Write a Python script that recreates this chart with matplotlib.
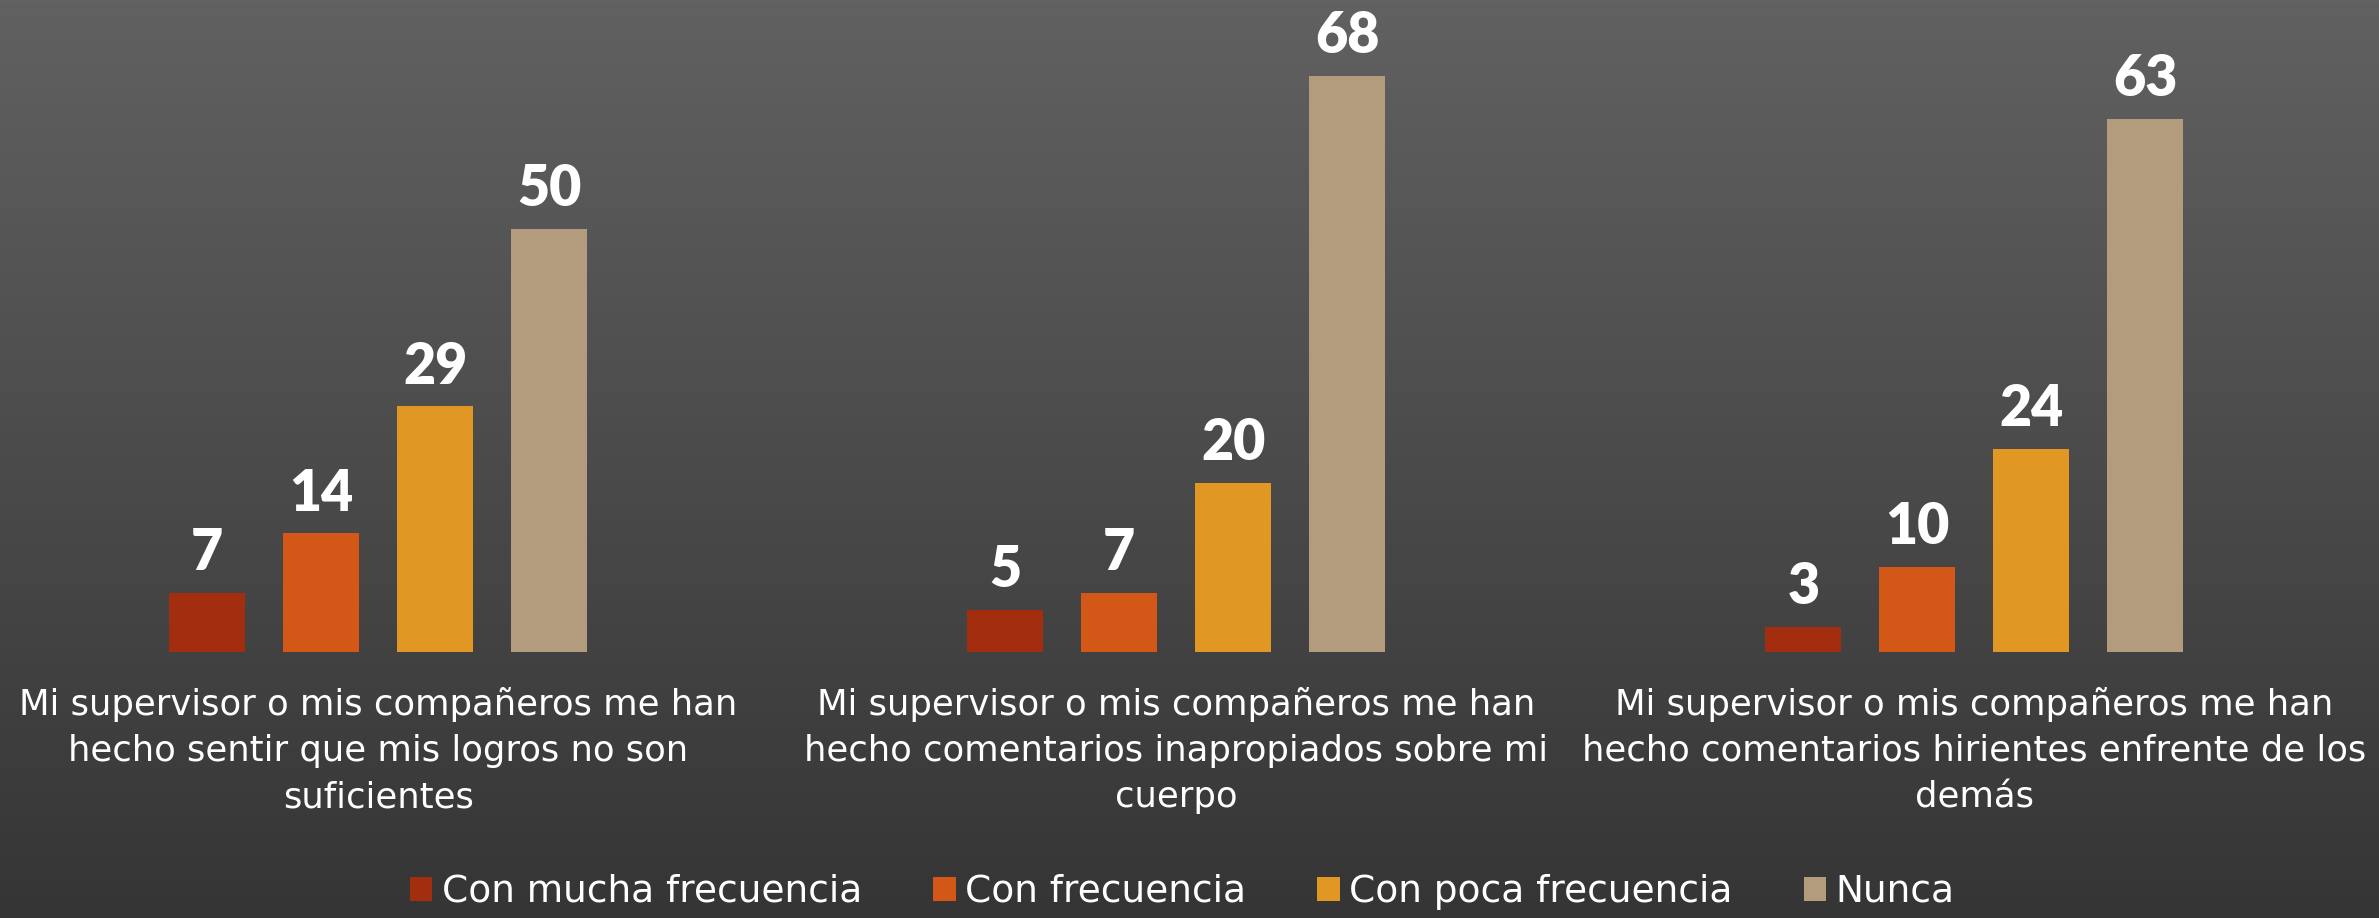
import matplotlib
matplotlib.use("Agg")
import matplotlib.pyplot as plt
import numpy as np
from matplotlib.colors import LinearSegmentedColormap

# datos
categorias = [
    "Mi supervisor o mis compañeros me han\nhecho sentir que mis logros no son\nsuficientes",
    "Mi supervisor o mis compañeros me han\nhecho comentarios inapropiados sobre mi\ncuerpo",
    "Mi supervisor o mis compañeros me han\nhecho comentarios hirientes enfrente de los\ndemás",
]
series = ["Con mucha frecuencia", "Con frecuencia", "Con poca frecuencia", "Nunca"]
mucha = [7, 5, 3]
frecuencia = [14, 7, 10]
poca = [29, 20, 24]
nunca = [50, 68, 63]
colores = ["#A22E0F", "#D35817", "#E09724", "#B39C7D"]

valores = [mucha, frecuencia, poca, nunca]

W, H = 2379, 918
fig = plt.figure(figsize=(W / 100, H / 100), dpi=100)

#   fondo degradado
bg = fig.add_axes([0, 0, 1, 1])
grad = np.linspace(0, 1, 256).reshape(-1, 1)
cmap = LinearSegmentedColormap.from_list("fondo", ["#616161", "#353535"])
bg.imshow(grad, aspect="auto", cmap=cmap, extent=[0, 1, 0, 1], origin="upper")
bg.axis("off")

#   barras
base = 652
ax = fig.add_axes([0, (H - base) / H, 1, base / H])
ax.set_facecolor("none")
x = np.arange(len(categorias))
paso = 0.1429
ancho = 0.0952
for k, (nombre, vals, c) in enumerate(zip(series, valores, colores)):
    pos = x + (k - 1.5) * paso
    barras = ax.bar(pos, vals, width=ancho, color=c, label=nombre)
    for b, v in zip(barras, vals):
        ax.annotate(str(v), (b.get_x() + b.get_width() / 2, v),
                    xytext=(0, 10), textcoords="offset points",
                    ha="center", va="bottom", color="white",
                    fontsize=40, fontweight="heavy", family="Lato")

ax.set_xlim(-0.474, 2.507)
ax.set_ylim(0, 77)
ax.set_yticks([])
ax.set_xticks(x)
ax.set_xticklabels(categorias, fontsize=25.5, color="white", linespacing=1.45)
ax.tick_params(axis="x", length=0, pad=25)
for s in ax.spines.values():
    s.set_visible(False)

#   leyenda
leg = fig.legend(loc="lower center", bbox_to_anchor=(0.497, -0.028), ncol=4,
                 frameon=False, fontsize=27, handlelength=0.6, handleheight=0.6,
                 handletextpad=0.25, columnspacing=1.9, labelcolor="white")

fig.savefig("out.png", dpi=100)
